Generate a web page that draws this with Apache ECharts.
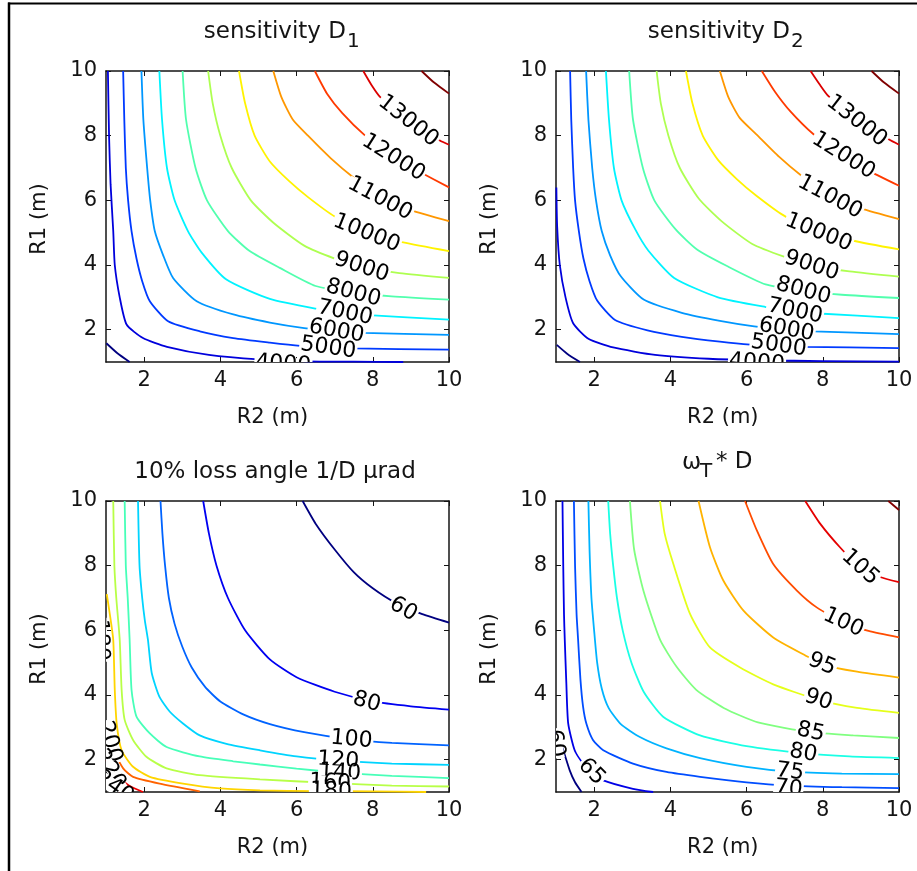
<!DOCTYPE html>
<html>
<head>
<meta charset="utf-8">
<script src="https://cdn.jsdelivr.net/npm/echarts@6/dist/echarts.min.js"></script>
<style>html,body{margin:0;padding:0;background:#fff}#c{width:917px;height:871px}</style>
</head>
<body>
<div id="c"></div>
<script>
// ---------- tick labels ----------
const tickValues = [2, 4, 6, 8, 10];

// ---------- panel 1 : sensitivity D1 (points are [R2, R1]) ----------
const d1Levels = [3000, 4000, 5000, 6000, 7000, 8000, 9000, 10000, 11000, 12000, 13000, 14000];
const d1Contours = [
  [[1.01,1.58],[1.3,1.27],[1.62,1.0]],
  [[1.05,10],[1.08,8],[1.12,6.5],[1.19,5.05],[1.23,4.0],[1.36,3.0],[1.54,2.16],[1.97,1.74],[2.6,1.47],[3.7,1.22],[5.0,1.08],[6.3,1.02],[7.5,1.01],[8.8,1.0]],
  [[1.45,10],[1.48,8.5],[1.52,7],[1.58,6],[1.67,5.05],[1.8,4.2],[1.95,3.5],[2.15,2.88],[2.63,2.26],[3.46,1.95],[4.34,1.74],[5.3,1.6],[6.1,1.5],[6.83,1.45],[7.5,1.42],[10,1.38]],
  [[1.93,10],[1.98,8.5],[2.08,7],[2.16,6],[2.28,5.05],[2.5,4.3],[2.76,3.6],[3.38,2.88],[4.34,2.47],[5.3,2.22],[6.2,2.05],[7.05,1.95],[7.75,1.9],[10,1.84]],
  [[2.4,10],[2.47,8.5],[2.6,7],[2.8,6],[3.15,5.05],[3.5,4.4],[4.16,3.55],[5.3,2.95],[6.5,2.65],[7.27,2.52],[7.9,2.45],[10,2.31]],
  [[3.01,10],[3.1,8.5],[3.35,7],[3.65,6],[4.2,5.05],[4.77,4.43],[5.56,3.91],[6.5,3.35],[7.49,3.15],[8.5,3.03],[10,2.93]],
  [[3.68,10],[3.8,9],[4.0,8],[4.3,7],[4.8,6],[5.4,5.3],[6.2,4.6],[7.0,4.2],[7.7,3.95],[8.7,3.75],[10,3.6]],
  [[4.49,10],[4.65,9],[4.9,8],[5.3,7.2],[5.8,6.6],[6.3,6.1],[7.0,5.5],[7.84,5.0],[8.8,4.7],[10,4.43]],
  [[5.39,10],[5.6,9.2],[5.9,8.5],[6.3,8.0],[6.9,7.3],[7.5,6.7],[8.2,6.1],[9.0,5.7],[10,5.36]],
  [[6.48,10],[6.8,9.3],[7.2,8.7],[7.8,8.0],[8.5,7.35],[9.2,6.9],[10,6.4]],
  [[7.75,10],[7.97,9.56],[8.19,9.2],[8.9,8.5],[9.76,7.85],[10,7.72]],
  [[9.28,10],[9.6,9.65],[10,9.3]]
];
const d1Labels = [[8.93,8.45,13000],[8.54,7.32,12000],[8.19,6.05,11000],[7.84,4.98,10000],[7.71,3.93,9000],[7.49,3.13,8000],[7.27,2.52,7000],[7.05,1.95,6000],[6.83,1.43,5000],[5.65,0.93,4000]];

// ---------- panel 2 : sensitivity D2 ----------
const d2Levels = [3000, 4000, 5000, 6000, 7000, 8000, 9000, 10000, 11000, 12000, 13000, 14000];
const d2Contours = [
  [[1.02,1.53],[1.3,1.25],[1.63,1.0]],
  [[1.01,6.4],[1.03,5.2],[1.1,4.0],[1.25,3.0],[1.45,2.2],[1.85,1.72],[2.5,1.45],[3.6,1.22],[5.0,1.1],[6.5,1.05],[8.0,1.03],[10,1.01]],
  [[1.37,10],[1.4,8.5],[1.45,7],[1.5,6],[1.6,5.05],[1.72,4.2],[1.88,3.5],[2.08,2.9],[2.55,2.3],[3.4,1.98],[4.3,1.78],[5.3,1.63],[6.1,1.54],[6.84,1.5],[7.5,1.47],[10,1.43]],
  [[1.79,10],[1.85,8.5],[1.95,7],[2.05,6],[2.2,5.05],[2.42,4.3],[2.7,3.65],[3.3,2.93],[4.3,2.52],[5.3,2.27],[6.2,2.1],[7.05,2.0],[7.75,1.95],[10,1.86]],
  [[2.31,10],[2.39,8.5],[2.52,7],[2.72,6],[3.08,5.1],[3.42,4.45],[4.1,3.6],[5.25,3.0],[6.5,2.7],[7.27,2.57],[7.9,2.5],[10,2.36]],
  [[2.92,10],[3.02,8.5],[3.28,7],[3.58,6],[4.14,5.1],[4.7,4.48],[5.5,3.96],[6.5,3.4],[7.49,3.2],[8.5,3.08],[10,2.98]],
  [[3.64,10],[3.75,9],[3.95,8],[4.25,7],[4.75,6.05],[5.35,5.35],[6.15,4.65],[7.0,4.25],[7.7,4.0],[8.7,3.8],[10,3.64]],
  [[4.41,10],[4.58,9],[4.85,8],[5.25,7.25],[5.75,6.65],[6.25,6.15],[6.95,5.55],[7.8,5.05],[8.8,4.75],[10,4.48]],
  [[5.3,10],[5.52,9.2],[5.82,8.55],[6.25,8.05],[6.85,7.35],[7.45,6.75],[8.15,6.15],[9.0,5.75],[10,5.42]],
  [[6.4,10],[6.75,9.35],[7.15,8.75],[7.75,8.05],[8.45,7.45],[9.15,6.95],[10,6.45]],
  [[7.68,10],[7.92,9.58],[8.15,9.22],[8.87,8.52],[9.74,7.88],[10,7.72]],
  [[9.28,10],[9.6,9.65],[10,9.3]]
];
const d2Labels = [[8.89,8.45,13000],[8.54,7.38,12000],[8.19,6.1,11000],[7.89,5.0,10000],[7.71,3.98,9000],[7.49,3.2,8000],[7.27,2.57,7000],[7.05,2.0,6000],[6.84,1.5,5000],[6.27,0.97,4000]];

// ---------- panel 3 : 10% loss angle 1/D µrad ----------
const lossLevels = [60, 80, 100, 120, 140, 160, 180, 200, 220, 240];
const lossContours = [
  [[6.16,10],[6.5,9.3],[7.0,8.5],[7.5,7.8],[8.0,7.3],[8.6,6.85],[9.3,6.5],[10,6.24]],
  [[3.55,10],[3.7,9],[3.9,8],[4.2,7],[4.65,6],[5.3,5.1],[6.0,4.55],[7.0,4.1],[8.0,3.8],[9.0,3.65],[10,3.55]],
  [[2.43,10],[2.48,9],[2.55,8],[2.65,7],[2.8,6.2],[3.0,5.5],[3.25,4.85],[3.6,4.25],[4.0,3.8],[4.6,3.4],[5.3,3.1],[6.2,2.85],[7.44,2.62],[8.5,2.52],[10,2.44]],
  [[1.84,10],[1.88,8],[1.95,7],[2.02,6.3],[2.1,5.71],[2.2,4.68],[2.4,3.95],[2.67,3.49],[3.02,3.12],[3.46,2.75],[4.16,2.49],[5.04,2.29],[6.0,2.1],[7.09,1.97],[8.5,1.88],[10,1.84]],
  [[1.49,10],[1.52,8],[1.57,7],[1.62,5.71],[1.67,4.16],[1.8,3.33],[2.15,2.81],[2.59,2.39],[3.46,2.1],[4.34,1.95],[5.04,1.85],[6.0,1.72],[7.14,1.6],[8.5,1.5],[10,1.43]],
  [[1.19,10],[1.22,8],[1.27,7],[1.36,5.71],[1.41,4.16],[1.49,3.23],[1.71,2.61],[2.06,2.09],[2.59,1.73],[3.46,1.52],[5.04,1.39],[6.88,1.28],[8.5,1.2],[10,1.17]],
  [[1.02,7.12],[1.1,6.5],[1.19,5.71],[1.23,4.16],[1.28,3.12],[1.41,2.29],[1.71,1.78],[2.15,1.47],[3.02,1.26],[3.99,1.11],[5.04,1.05],[6.5,1.03],[8.0,1.02],[9.4,1.0]],
  [[1.02,3.1],[1.1,2.6],[1.19,2.3],[1.45,1.73],[1.71,1.47],[2.41,1.26],[3.46,1.02]],
  [[1.01,1.98],[1.3,1.5],[1.6,1.2],[1.97,1.0]],
  [[1.01,1.47],[1.2,1.2],[1.36,1.0]]
];
const lossLabels = [[8.8,6.65,60],[7.84,3.78,80],[7.44,2.62,100],[7.09,1.97,120],[7.14,1.6,140],[6.88,1.28,160],[6.9,1.02,180],[0.85,5.7,180],[1.1,2.55,200],[1.1,1.7,220],[1.22,1.15,240]];

// ---------- panel 4 : omega_T * D ----------
const wdLevels = [60, 65, 70, 75, 80, 85, 90, 95, 100, 105, 110];
const wdContours = [
  [[1.01,2.85],[1.19,2.29],[1.36,1.67],[1.5,1.3],[1.67,1.0]],
  [[1.17,10],[1.19,8],[1.21,6.5],[1.23,5.71],[1.27,4.4],[1.32,3.12],[1.49,2.29],[1.71,1.88],[1.97,1.6],[2.24,1.36],[3.02,1.1],[3.55,1.0]],
  [[1.47,10],[1.5,8],[1.54,6.5],[1.58,5.71],[1.64,4.5],[1.71,3.64],[1.8,3.1],[1.97,2.61],[2.24,2.29],[3.02,1.88],[3.9,1.62],[4.78,1.47],[6.0,1.3],[7.1,1.2],[8.5,1.15],[10,1.12]],
  [[1.85,10],[1.88,8.5],[1.93,7],[2.0,6],[2.08,5],[2.2,4.2],[2.38,3.6],[2.7,3.1],[3.2,2.7],[3.9,2.35],[4.78,2.05],[6.0,1.78],[7.14,1.63],[8.5,1.57],[10,1.55]],
  [[2.37,10],[2.42,9],[2.5,8],[2.6,7],[2.75,6],[2.98,5],[3.3,4.1],[3.81,3.33],[4.78,2.75],[6.0,2.42],[7.49,2.2],[8.7,2.1],[10,2.05]],
  [[2.94,10],[3.05,8.5],[3.3,7.2],[3.73,5.71],[4.16,4.88],[4.68,4.16],[5.4,3.6],[6.3,3.15],[7.68,2.85],[8.8,2.75],[10,2.67]],
  [[3.73,10],[3.85,9],[4.08,8.05],[4.52,6.5],[5.04,5.47],[5.83,4.85],[6.7,4.33],[7.89,3.85],[8.9,3.6],[10,3.45]],
  [[4.74,10],[5.04,8.57],[5.39,7.54],[5.92,6.61],[6.7,5.78],[7.58,5.2],[7.98,4.95],[8.9,4.72],[10,4.54]],
  [[5.96,10],[6.27,9.09],[6.7,8.05],[7.32,7.23],[7.84,6.71],[8.54,6.24],[9.2,5.98],[10,5.78]],
  [[7.54,10],[7.93,9.3],[8.45,8.57],[8.98,7.95],[9.5,7.65],[10,7.49]],
  [[9.72,10],[10,9.72]]
];
const wdLabels = [[8.98,7.95,105],[8.54,6.24,100],[7.98,4.95,95],[7.89,3.85,90],[7.68,2.85,85],[7.49,2.2,80],[7.14,1.62,75],[7.1,1.1,70],[1.93,1.62,65],[0.98,2.5,60]];

// ---------- presentation ----------
const labelAngles = [
  [-38,-32,-28,-22,-18,-15,-12,-10,-8,-4],
  [-38,-32,-28,-22,-18,-15,-12,-10,-8,-4],
  [-30,-15,-5,-4,-3,-3,-2,-88,-75,-60,-35],
  [-42,-25,-22,-18,-12,-10,-8,-6,-45,-80]
];
const panels = [
  {left:106, top:71, levels:d1Levels, contours:d1Contours, labels:d1Labels},
  {left:556, top:71, levels:d2Levels, contours:d2Contours, labels:d2Labels},
  {left:106, top:501, levels:lossLevels, contours:lossContours, labels:lossLabels},
  {left:556, top:501, levels:wdLevels, contours:wdContours, labels:wdLabels}
];
const PW = 343, PH = 291;
const FONT = '"DejaVu Sans", sans-serif';
const AX = '#141414';

function clamp(v){ return Math.max(0, Math.min(1, v)); }
function jet(t){
  const r = clamp(1.5 - Math.abs(4*t - 3)), g = clamp(1.5 - Math.abs(4*t - 2)), b = clamp(1.5 - Math.abs(4*t - 1));
  return 'rgb(' + Math.round(r*255) + ',' + Math.round(g*255) + ',' + Math.round(b*255) + ')';
}

const grid = [], xAxis = [], yAxis = [], series = [];
panels.forEach(function(p, i){
  grid.push({left:p.left, top:p.top, width:PW, height:PH});
  const tick = {show:true, inside:true, length:5, customValues:tickValues, lineStyle:{color:AX, width:1}};
  const line = {show:true, onZero:false, lineStyle:{color:AX, width:1.5}};
  xAxis.push({type:'value', gridIndex:i, min:1, max:10, position:'bottom', axisLine:line, axisTick:tick,
    axisLabel:{customValues:tickValues, margin:8, fontFamily:FONT, fontSize:21, color:AX}, splitLine:{show:false}});
  xAxis.push({type:'value', gridIndex:i, min:1, max:10, position:'top', axisLine:line, axisTick:tick,
    axisLabel:{show:false}, splitLine:{show:false}});
  yAxis.push({type:'value', gridIndex:i, min:1, max:10, position:'left', axisLine:line, axisTick:tick,
    axisLabel:{customValues:tickValues, margin:9, fontFamily:FONT, fontSize:21, color:AX}, splitLine:{show:false}});
  yAxis.push({type:'value', gridIndex:i, min:1, max:10, position:'right', axisLine:line, axisTick:tick,
    axisLabel:{show:false}, splitLine:{show:false}});
  const n = p.levels.length;
  p.contours.forEach(function(c, j){
    series.push({type:'line', xAxisIndex:2*i, yAxisIndex:2*i, data:c, showSymbol:false, smooth:0.2,
      clip:true, silent:true, animation:false, z:2,
      lineStyle:{color:jet(j/(n-1)), width:1.8}});
  });
  const angles = labelAngles[i];
  series.push({type:'custom', xAxisIndex:2*i, yAxisIndex:2*i, clip:true, silent:true, animation:false, z:5,
    data:p.labels.map(function(l, k){ return [l[0], l[1], l[2], angles[k]]; }),
    renderItem:function(params, api){
      const pt = api.coord([api.value(0), api.value(1)]);
      return {type:'text', x:pt[0], y:pt[1], rotation:api.value(3)*Math.PI/180,
        style:{text:String(api.value(2)), font:'22px ' + FONT, fill:'#000', align:'center', verticalAlign:'middle',
          backgroundColor:'#fff', lineHeight:14, padding:[0,1]}};
    }});
});

function txt(s, x, y, size, align, rot){
  return {type:'text', x:x, y:y, rotation:rot || 0, silent:true,
    style:{text:s, font:size + 'px ' + FONT, fill:AX, align:align, verticalAlign:'middle'}};
}
const graphic = [
  {type:'line', silent:true, shape:{x1:9, y1:2.5, x2:9, y2:871}, style:{stroke:'#000', lineWidth:2.5}},
  {type:'line', silent:true, shape:{x1:8, y1:3.5, x2:917, y2:3.5}, style:{stroke:'#000', lineWidth:2}},
  txt('sensitivity D', 346, 32, 23, 'right'), txt('1', 347, 42, 20, 'left'),
  txt('sensitivity D', 790, 32, 23, 'right'), txt('2', 791, 42, 20, 'left'),
  txt('10% loss angle 1/D \u00b5rad', 275, 472, 23, 'center'),
  txt('\u03c9', 682, 463, 23, 'left'), txt('T', 700, 472, 20, 'left'), txt('* D', 716, 462, 23, 'left'),
  txt('R1 (m)', 39.5, 219, 21, 'center', Math.PI/2), txt('R1 (m)', 490, 219, 21, 'center', Math.PI/2),
  txt('R1 (m)', 39.5, 649, 21, 'center', Math.PI/2), txt('R1 (m)', 490, 649, 21, 'center', Math.PI/2),
  txt('R2 (m)', 272.5, 417.5, 21, 'center'), txt('R2 (m)', 722.8, 417.5, 21, 'center'),
  txt('R2 (m)', 272.5, 847.5, 21, 'center'), txt('R2 (m)', 722.8, 847.5, 21, 'center')
];

const chart = echarts.init(document.getElementById('c'), null, {renderer:'canvas'});
chart.setOption({backgroundColor:'#fff', animation:false, grid:grid, xAxis:xAxis, yAxis:yAxis, series:series, graphic:graphic});
</script>
</body>
</html>
